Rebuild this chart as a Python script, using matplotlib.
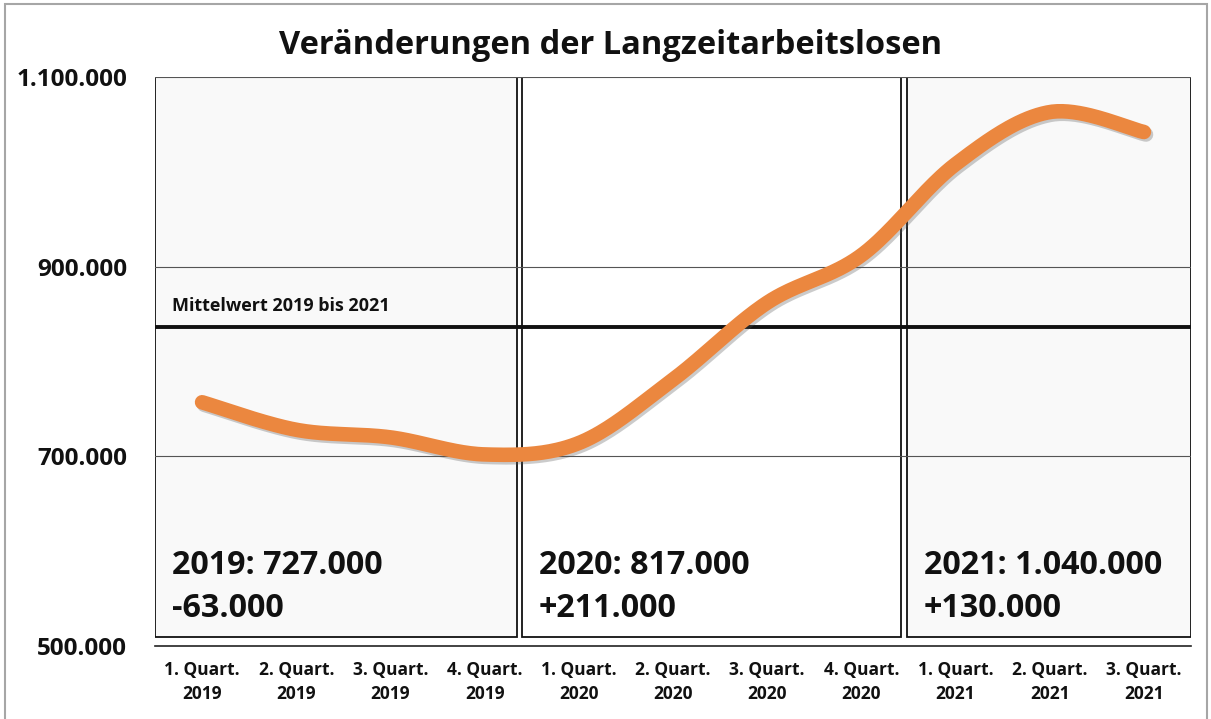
import numpy as np
import matplotlib
matplotlib.use("Agg")
import matplotlib.pyplot as plt
from matplotlib.patches import Rectangle
import matplotlib.patheffects as pe

# ---- data ----
quarters = ["1. Quart.\n2019", "2. Quart.\n2019", "3. Quart.\n2019", "4. Quart.\n2019",
            "1. Quart.\n2020", "2. Quart.\n2020", "3. Quart.\n2020", "4. Quart.\n2020",
            "1. Quart.\n2021", "2. Quart.\n2021", "3. Quart.\n2021"]
values = [757000, 728000, 720000, 702000, 714000, 781000, 862000, 912000, 1008000, 1063000, 1042000]
mean_value = 836000
mean_label = "Mittelwert 2019 bis 2021"
year_texts = ["2019: 727.000\n-63.000", "2020: 817.000\n+211.000", "2021: 1.040.000\n+130.000"]
yticks = [500000, 700000, 900000, 1100000]
ytick_labels = ["500.000", "700.000", "900.000", "1.100.000"]
title = "Veränderungen der Langzeitarbeitslosen"

plt.rcParams['font.family'] = ['Open Sans', 'DejaVu Sans']

fig = plt.figure(figsize=(12.11, 7.19), dpi=100)
ax = fig.add_axes([155/1211, 1-646/719, (1191-155)/1211, (646-77)/719])
ax.set_xlim(-0.5, 10.5)
ax.set_ylim(500000, 1100000)

# figure border
fig.patches.append(Rectangle((5/1211, -0.05), (1207-5)/1211, 1.05-4/719,
                             transform=fig.transFigure, fill=False,
                             edgecolor='#a6a6a6', linewidth=1.5, zorder=0))

# year boxes
box_bounds = [(-0.5, 3.344, '#f9f9f9'), (3.397, 7.421, '#ffffff'), (7.485, 10.5, '#f9f9f9')]
box_bottom = 510000
for (x0, x1, fc), txt in zip(box_bounds, year_texts):
    ax.add_patch(Rectangle((x0, box_bottom), x1 - x0, 1100000 - box_bottom,
                           facecolor=fc, edgecolor='#111111', linewidth=1.3, zorder=1))
    ax.annotate(txt, xy=(x0, box_bottom), xytext=(12, 8), textcoords='offset points',
                ha='left', va='bottom', fontsize=23.2, fontweight='bold',
                color='#111111', linespacing=1.4, zorder=5)

# gridlines
for yv in yticks[1:]:
    ax.axhline(yv, color='#555555', linewidth=0.8, zorder=2)

# mean line
ax.axhline(mean_value, color='#111111', linewidth=2.8, zorder=3)
ax.annotate(mean_label, xy=(-0.5, mean_value), xytext=(12, 9), textcoords='offset points',
            ha='left', va='bottom', fontsize=13, fontweight='bold', color='#111111')

# smooth curve (Bezier through data points)
x = np.arange(len(values), dtype=float)
y = np.array(values, dtype=float)
xs, ys = [], []
n = len(x)
for i in range(n - 1):
    p0 = (x[i-1], y[i-1]) if i > 0 else (x[i], y[i])
    p1 = (x[i], y[i]); p2 = (x[i+1], y[i+1])
    p3 = (x[i+2], y[i+2]) if i + 2 < n else (x[i+1], y[i+1])
    c1 = (p1[0] + (p2[0]-p0[0])/6, p1[1] + (p2[1]-p0[1])/6)
    c2 = (p2[0] - (p3[0]-p1[0])/6, p2[1] - (p3[1]-p1[1])/6)
    t = np.linspace(0, 1, 40)
    bx = (1-t)**3*p1[0] + 3*(1-t)**2*t*c1[0] + 3*(1-t)*t**2*c2[0] + t**3*p2[0]
    by = (1-t)**3*p1[1] + 3*(1-t)**2*t*c1[1] + 3*(1-t)*t**2*c2[1] + t**3*p2[1]
    xs.extend(bx); ys.extend(by)
ax.plot(xs, ys, color='#eb873f', linewidth=10.5, solid_capstyle='round', zorder=4,
        path_effects=[pe.SimpleLineShadow(offset=(1.5, -1.8), shadow_color='#555555', alpha=0.3),
                      pe.Normal()])

# axes styling
for s in ['left', 'right', 'top']:
    ax.spines[s].set_visible(False)
ax.spines['bottom'].set_color('#222222')
ax.spines['bottom'].set_linewidth(1.2)
ax.spines['bottom'].set_zorder(6)
ax.set_facecolor('none')
ax.set_yticks(yticks)
ax.set_yticklabels(ytick_labels, fontsize=17.5, fontweight='bold', color='#111111')
ax.set_xticks(x)
ax.set_xticklabels(quarters, fontsize=12.5, fontweight='bold', color='#111111', linespacing=1.4)
ax.tick_params(axis='both', length=0)
ax.tick_params(axis='y', pad=20)
ax.tick_params(axis='x', pad=11)

fig.text(611/1211, 1-45/719, title, ha='center', va='center', fontsize=23.5,
         fontweight='bold', color='#111111')

fig.savefig("out.png", dpi=100)
